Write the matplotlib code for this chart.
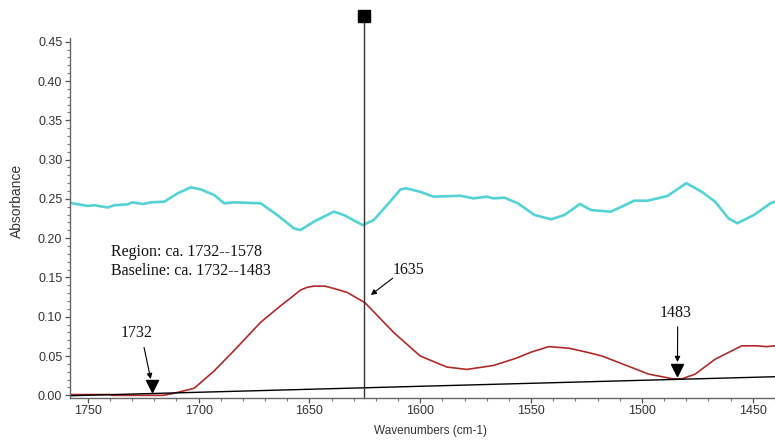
import matplotlib
matplotlib.use('Agg')
import matplotlib.pyplot as plt
from matplotlib.ticker import MultipleLocator

# cyan spectrum (upper trace)
cyan_x = [1758, 1756, 1750, 1747, 1741, 1738, 1732, 1730, 1725, 1721.5, 1715.5, 1709.5,
          1703.5, 1699, 1693, 1688.5, 1684, 1672, 1664.5, 1657, 1654, 1648, 1639, 1634.5,
          1626, 1621, 1613, 1609, 1606.5, 1600, 1594, 1582, 1576, 1570, 1567, 1562, 1556,
          1548.5, 1541, 1535, 1528, 1523, 1514, 1503.5, 1497.5, 1488.5, 1480, 1473, 1467,
          1461, 1457, 1449.5, 1442, 1440]
cyan_y = [0.245, 0.244, 0.241, 0.242, 0.239, 0.242, 0.243, 0.2456, 0.2435, 0.2456, 0.2464, 0.257,
          0.2647, 0.262, 0.255, 0.2444, 0.2456, 0.2444, 0.2295, 0.2125, 0.2104, 0.221, 0.2337, 0.2295,
          0.2167, 0.223, 0.2486, 0.262, 0.2635, 0.259, 0.2528, 0.254, 0.2507, 0.2528, 0.2507, 0.2515, 0.2444,
          0.2295, 0.224, 0.2295, 0.2435, 0.2358, 0.2337, 0.2477, 0.2477, 0.2537, 0.270, 0.259, 0.2464,
          0.2253, 0.219, 0.2295, 0.2444, 0.2464]

# red peak (lower trace)
red_x = [1758, 1740, 1739, 1716, 1712, 1702, 1693, 1684, 1672, 1663, 1658, 1654, 1651, 1648, 1643,
         1639, 1633, 1625, 1612, 1600, 1588, 1579, 1567, 1557, 1550, 1542, 1533, 1525, 1518, 1507,
         1497, 1486, 1482, 1476, 1467, 1455, 1448, 1444, 1440]
red_y = [0.001, 0.001, 0.0, 0.0, 0.002, 0.009, 0.031, 0.057, 0.093, 0.114, 0.125, 0.134, 0.1375, 0.139, 0.139,
         0.136, 0.131, 0.118, 0.080, 0.050, 0.036, 0.033, 0.038, 0.047, 0.055, 0.062, 0.060, 0.055, 0.050, 0.038,
         0.027, 0.021, 0.021, 0.027, 0.046, 0.063, 0.063, 0.062, 0.063]

baseline_x = [1758, 1440]
baseline_y = [-0.0005, 0.0237]

cursor_x = 1625.5
marker_x = [1720.8, 1484]
marker_y = [0.0118, 0.032]

fig = plt.figure(figsize=(7.75, 4.43), dpi=100)
ax = fig.add_axes([70 / 775, (443 - 397.7) / 443, 705 / 775, (397.7 - 37.8) / 443])

ax.plot(cyan_x, cyan_y, color='#55d2d4', lw=1.9, solid_joinstyle='round')
ax.plot(red_x, red_y, color='#b02a2a', lw=1.2)
ax.plot(baseline_x, baseline_y, color='black', lw=1.0)

# cursor line with square handle on top
ax.plot([cursor_x, cursor_x], [-0.003, 0.475], color='#333333', lw=1.0, clip_on=False)
ax.plot([cursor_x], [0.4828], marker='s', markersize=9, color='black', clip_on=False)

ax.plot(marker_x, marker_y, linestyle='none', marker='v', markersize=9, color='black')

ax.set_xlim(1758, 1440)
ax.set_ylim(-0.003, 0.455)
ax.xaxis.set_major_locator(MultipleLocator(50))
ax.xaxis.set_minor_locator(MultipleLocator(10))
ax.yaxis.set_major_locator(MultipleLocator(0.05))
ax.yaxis.set_minor_locator(MultipleLocator(0.01))
ax.yaxis.set_major_formatter(matplotlib.ticker.FormatStrFormatter('%.2f'))

for s in ['top', 'right']:
    ax.spines[s].set_visible(False)
for s in ['left', 'bottom']:
    ax.spines[s].set_color('#666666')
    ax.spines[s].set_linewidth(1.0)

ax.tick_params(which='major', length=3.5, width=0.9, color='#555555', pad=2,
               labelsize=9, labelcolor='#333333')
ax.tick_params(which='minor', length=2, width=0.8, color='#777777')
for lab in ax.get_xticklabels() + ax.get_yticklabels():
    lab.set_family('Liberation Sans')

fig.text(430 / 775, 1 - 430.7 / 443, 'Wavenumbers (cm-1)', ha='center', va='center',
         fontsize=8.5, color='#333333', family='Liberation Sans')
fig.text(17 / 775, 1 - 200.5 / 443, 'Absorbance', ha='center', va='center', rotation=90,
         fontsize=10, color='#333333', family='Liberation Sans')

serif = dict(family='Liberation Serif', color='#111111')
ax.text(1739.6, 0.1828, 'Region: ca. 1732--1578', ha='left', va='center', fontsize=11.5, **serif)
ax.text(1739.6, 0.158, 'Baseline: ca. 1732--1483', ha='left', va='center', fontsize=11.5, **serif)

arrow = dict(arrowstyle='-|>', color='black', lw=0.8, mutation_scale=8, shrinkA=0, shrinkB=0)
ax.text(1728, 0.079, '1732', ha='center', va='center', fontsize=11.5, **serif)
ax.annotate('', xy=(1721.6, 0.0207), xytext=(1724.6, 0.061), arrowprops=arrow)
ax.text(1605.4, 0.1595, '1635', ha='center', va='center', fontsize=11.5, **serif)
ax.annotate('', xy=(1622.3, 0.1277), xytext=(1612.5, 0.149), arrowprops=arrow)
ax.text(1484.7, 0.105, '1483', ha='center', va='center', fontsize=11.5, **serif)
ax.annotate('', xy=(1484, 0.0424), xytext=(1483.9, 0.0873), arrowprops=arrow)

fig.savefig('out.png', dpi=100)
